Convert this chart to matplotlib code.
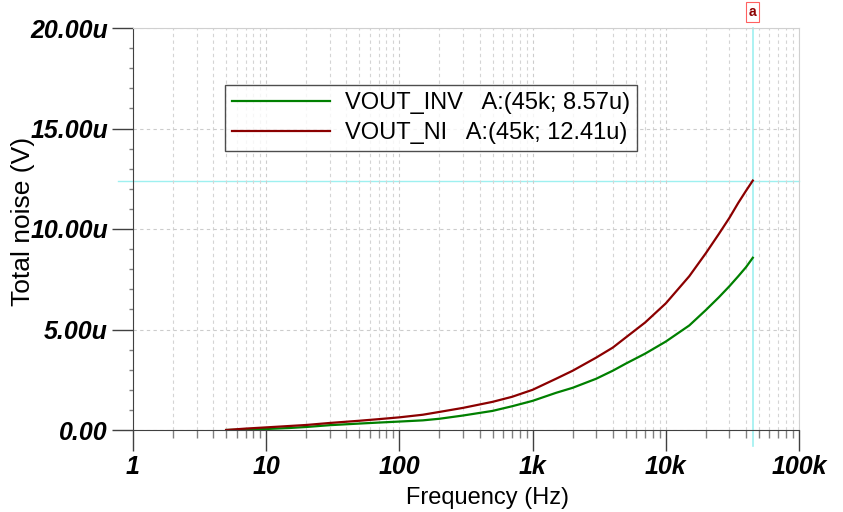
import matplotlib
matplotlib.use("Agg")
import matplotlib.pyplot as plt
from matplotlib.ticker import FixedLocator, FuncFormatter, LogLocator, NullFormatter

# values (frequency in Hz, noise in uV)
freq = [5, 7, 10, 15, 20, 30, 50, 70, 100, 150, 200, 300, 500, 700,
        1e3, 1.5e3, 2e3, 3e3, 4e3, 5e3, 7e3, 1e4, 1.5e4, 2e4, 2.5e4, 3e4, 3.5e4, 4e4, 4.5e4]
vout_ni = [0.0, 0.07, 0.13, 0.20, 0.25, 0.35, 0.46, 0.54, 0.63, 0.76, 0.90, 1.10, 1.40, 1.65,
           2.0, 2.55, 2.95, 3.6, 4.1, 4.6, 5.35, 6.3, 7.65, 8.8, 9.75, 10.55, 11.3, 11.9, 12.41]
vout_inv = [0.0, 0.02, 0.05, 0.10, 0.15, 0.24, 0.32, 0.37, 0.42, 0.48, 0.56, 0.72, 0.95, 1.18,
            1.45, 1.85, 2.1, 2.55, 2.95, 3.3, 3.8, 4.4, 5.2, 5.97, 6.6, 7.15, 7.65, 8.1, 8.57]
labels = ["VOUT_INV   A:(45k; 8.57u)", "VOUT_NI   A:(45k; 12.41u)"]
cursor_f = 45000
cursor_v = 12.41
xticks = [1, 10, 100, 1e3, 1e4, 1e5]
xticklabels = ["1", "10", "100", "1k", "10k", "100k"]
yticks = [0, 5, 10, 15, 20]
yticklabels = ["0.00", "5.00u", "10.00u", "15.00u", "20.00u"]

plt.rcParams["font.family"] = ["Liberation Sans", "DejaVu Sans"]

fig = plt.figure(figsize=(8.43, 5.12), dpi=100)
ax = fig.add_axes([133 / 843, (512 - 430) / 512, 666 / 843, 402 / 512])

ax.plot(freq, vout_inv, color="#008000", lw=1.6, label=labels[0])
ax.plot(freq, vout_ni, color="#8b0000", lw=1.6, label=labels[1])

ax.set_xscale("log")
ax.set_xlim(1, 1e5)
ax.set_ylim(0, 20)

ax.xaxis.set_major_locator(FixedLocator(xticks))
ax.xaxis.set_major_formatter(FuncFormatter(lambda v, p: xticklabels[xticks.index(v)] if v in xticks else ""))
ax.xaxis.set_minor_locator(LogLocator(base=10, subs=range(2, 10), numticks=20))
ax.xaxis.set_minor_formatter(NullFormatter())
ax.yaxis.set_major_locator(FixedLocator(yticks))
ax.set_yticklabels(yticklabels)
ax.yaxis.set_minor_locator(FixedLocator([v for v in range(0, 21) if v % 5]))

ax.grid(True, which="major", axis="both", color="#cccccc", ls=(0, (3, 3)), lw=0.8)
ax.grid(True, which="minor", axis="x", color="#d4d4d4", ls=(0, (3, 3)), lw=0.8)

for lab in ax.get_xticklabels() + ax.get_yticklabels():
    lab.set_fontsize(18)
    lab.set_fontweight("bold")
    lab.set_fontstyle("italic")
ax.tick_params(which="major", length=15, width=1, color="#404040", pad=3)
ax.tick_params(which="minor", length=6, width=1, color="#808080")
ax.tick_params(axis="y", which="minor", length=3)

for s in ["left", "bottom"]:
    ax.spines[s].set_color("#404040")
for s in ["top", "right"]:
    ax.spines[s].set_color("#d0d0d0")

ax.set_xlabel("Frequency (Hz)", fontsize=17)
ax.set_ylabel("Total noise (V)", fontsize=19)
ax.xaxis.set_label_coords((487 - 133) / 666, -(487 - 430) / 402)
ax.yaxis.set_label_coords(-(133 - 35) / 666, (430 - 221) / 402)

# cursor lines
ax.axvline(cursor_f, ymin=-0.04, ymax=1.0, color="#9ef0f0", lw=1.2, clip_on=False, zorder=1)
ax.axhline(cursor_v, xmin=-0.023, xmax=1.0, color="#9ef0f0", lw=1.0, clip_on=False, zorder=1)
ax.text(cursor_f, 20.8, "a", ha="center", va="center", fontsize=10, fontweight="bold",
        color="#8b0000", clip_on=False,
        bbox=dict(boxstyle="square,pad=0.2", fc="white", ec="#ff6060", lw=0.8))

leg = ax.legend(loc="upper left", bbox_to_anchor=((225 - 133) / 666, (430 - 85) / 402),
                fontsize=17, frameon=True, fancybox=False, edgecolor="#202020",
                handlelength=4.15, handletextpad=0.63, borderpad=0.3, labelspacing=0.35,
                borderaxespad=0)
leg.get_frame().set_linewidth(1.0)

fig.savefig("out.png", dpi=100, facecolor="white")
